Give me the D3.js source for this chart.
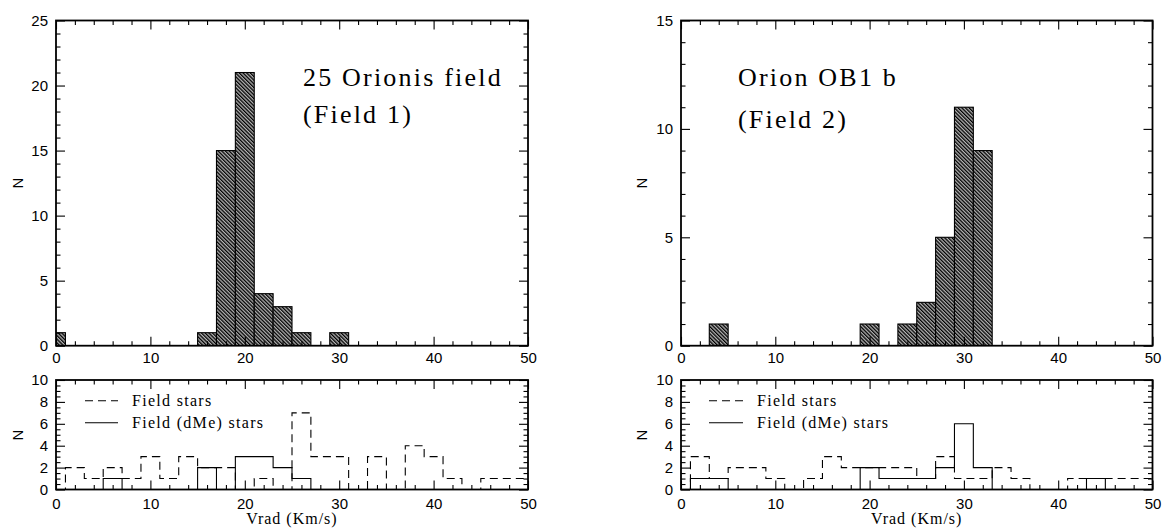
<!DOCTYPE html>
<html><head><meta charset="utf-8">
<script src="https://cdn.jsdelivr.net/npm/d3@7"></script>
<style>body{margin:0;background:#fff}svg{display:block}</style>
</head><body><svg id="c" width="1163" height="531"></svg>
<script>
// ---------- data ----------
const binCenters = [0,2,4,6,8,10,12,14,16,18,20,22,24,26,28,30,32,34,36,38,40,42,44,46,48,50];
const binHalf = 1;
const field1Cluster = [1,0,0,0,0,0,0,0,1,15,21,4,3,1,0,1,0,0,0,0,0,0,0,0,0,0];
const field2Cluster = [0,0,1,0,0,0,0,0,0,0,1,0,1,2,5,11,9,0,0,0,0,0,0,0,0,0];
const field1Stars   = [0,2,1,2,1,3,1,3,2,2,0,1,0,7,3,3,0,3,0,4,3,1,0,1,1,1];
const field1DMe     = [0,0,0,1,0,0,0,0,2,0,3,3,2,1,0,0,0,0,0,0,0,0,0,0,0,0];
const field2Stars   = [0,3,1,2,2,1,0,1,3,2,2,2,2,1,3,1,1,2,1,0,0,1,1,1,1,1];
const field2DMe     = [0,1,1,0,0,0,0,0,0,0,2,1,1,1,2,6,2,0,0,0,0,0,1,0,0,0];
const titles1 = ["25 Orionis field", "(Field 1)"];
const titles2 = ["Orion OB1 b", "(Field 2)"];
const legendLabels = ["Field stars", "Field (dMe) stars"];
const xLabel = "Vrad (Km/s)";
const yLabel = "N";
const xDomain = [0, 50];
const xMajorTicks = [0,10,20,30,40,50];
const topY1Ticks = [0,5,10,15,20,25];
const topY2Ticks = [0,5,10,15];
const bottomYTicks = [0,2,4,6,8,10];

// ---------- drawing ----------
const svg = d3.select("#c");
const defs = svg.append("defs");
const pat = defs.append("pattern").attr("id","hatch").attr("patternUnits","userSpaceOnUse")
  .attr("width",2.6).attr("height",2.6).attr("patternTransform","rotate(-45)");
pat.append("rect").attr("width",2.6).attr("height",2.6).attr("fill","#b4b4b4");
pat.append("rect").attr("width",1.3).attr("height",2.6).attr("fill","#000");

const sansFont = "Liberation Sans, Arial, sans-serif";
const serifFont = "Liberation Serif, Times New Roman, serif";

function makePanel(id, box, yDomain, yMajor, yMinorStep, xPad) {
  const x = d3.scaleLinear().domain(xDomain).range([box.x0, box.x1]);
  const y = d3.scaleLinear().domain(yDomain).range([box.y1, box.y0]);
  defs.append("clipPath").attr("id","clip"+id).append("rect")
    .attr("x",box.x0).attr("y",box.y0).attr("width",box.x1-box.x0).attr("height",box.y1-box.y0);
  const g = svg.append("g");
  const plot = g.append("g").attr("clip-path",`url(#clip${id})`);
  const xMinor = d3.range(xDomain[0], xDomain[1]+0.001, 2).filter(v => !xMajorTicks.includes(v));
  const yMinor = d3.range(yDomain[0], yDomain[1]+0.001, yMinorStep).filter(v => !yMajor.some(m => Math.abs(m-v)<1e-6));
  const axes = g.append("g");
  const styleAxis = sel => { sel.select(".domain").remove(); sel.selectAll("line").attr("stroke","#000").attr("stroke-width",1.1); sel.attr("font-family",sansFont).attr("font-size",15).selectAll("text").attr("fill","#000"); };
  axes.append("g").attr("transform",`translate(0,${box.y1})`)
    .call(d3.axisBottom(x).tickValues(xMajorTicks).tickSizeInner(-9).tickSizeOuter(0).tickPadding(xPad).tickFormat(d3.format("d"))).call(styleAxis);
  axes.append("g").attr("transform",`translate(${box.x0},0)`)
    .call(d3.axisLeft(y).tickValues(yMajor).tickSizeInner(-9).tickSizeOuter(0).tickPadding(8).tickFormat(d3.format("d"))).call(styleAxis);
  axes.append("g").attr("transform",`translate(0,${box.y0})`)
    .call(d3.axisTop(x).tickValues(xMajorTicks).tickSizeInner(-9).tickSizeOuter(0).tickFormat("")).call(styleAxis);
  axes.append("g").attr("transform",`translate(${box.x1},0)`)
    .call(d3.axisRight(y).tickValues(yMajor).tickSizeInner(-9).tickSizeOuter(0).tickFormat("")).call(styleAxis);
  axes.append("g").attr("transform",`translate(0,${box.y1})`)
    .call(d3.axisBottom(x).tickValues(xMinor).tickSizeInner(-4.5).tickSizeOuter(0).tickFormat("")).call(styleAxis);
  axes.append("g").attr("transform",`translate(0,${box.y0})`)
    .call(d3.axisTop(x).tickValues(xMinor).tickSizeInner(-4.5).tickSizeOuter(0).tickFormat("")).call(styleAxis);
  axes.append("g").attr("transform",`translate(${box.x0},0)`)
    .call(d3.axisLeft(y).tickValues(yMinor).tickSizeInner(-4.5).tickSizeOuter(0).tickFormat("")).call(styleAxis);
  axes.append("g").attr("transform",`translate(${box.x1},0)`)
    .call(d3.axisRight(y).tickValues(yMinor).tickSizeInner(-4.5).tickSizeOuter(0).tickFormat("")).call(styleAxis);
  return {g, plot, x, y, box};
}

function drawFrame(p) {
  p.g.append("rect").attr("x",p.box.x0).attr("y",p.box.y0)
    .attr("width",p.box.x1-p.box.x0).attr("height",p.box.y1-p.box.y0)
    .attr("fill","none").attr("stroke","#000").attr("stroke-width",1.8);
}

function drawBars(p, counts) {
  const data = binCenters.map((c,i)=>({c, v:counts[i]})).filter(d=>d.v>0);
  p.plot.selectAll("rect.bar").data(data).join("rect").attr("class","bar")
    .attr("x",d=>p.x(d.c-binHalf)).attr("width",d=>p.x(d.c+binHalf)-p.x(d.c-binHalf))
    .attr("y",d=>p.y(d.v)).attr("height",d=>p.y(0)-p.y(d.v))
    .attr("fill","url(#hatch)").attr("stroke","#000").attr("stroke-width",1.1);
}

function drawStep(p, counts, dashed) {
  const pts = [[binCenters[0]-binHalf, 0]];
  counts.forEach((v,i)=>{ pts.push([binCenters[i]-binHalf, v]); pts.push([binCenters[i]+binHalf, v]); });
  pts.push([binCenters[binCenters.length-1]+binHalf, 0]);
  p.plot.append("path").attr("d", d3.line().x(d=>p.x(d[0])).y(d=>p.y(d[1]))(pts))
    .attr("fill","none").attr("stroke","#000").attr("stroke-width",1.1)
    .attr("stroke-dasharray", dashed ? "8,5" : null);
}

function yTitle(xc, yc) {
  svg.append("text").attr("transform",`translate(${xc},${yc}) rotate(-90)`)
    .attr("text-anchor","middle").attr("dy","0.35em")
    .attr("font-family",sansFont).attr("font-size",15).text(yLabel);
}

function titleText(x0, baselines, lines) {
  lines.forEach((t,i)=>svg.append("text").attr("x",x0).attr("y",baselines[i])
    .attr("font-family",serifFont).attr("font-size",26).attr("letter-spacing","2.2px").text(t));
}

function legend(p, lx0, lx1, tx) {
  const ys = [p.y(8.1), p.y(6.1)];
  [true,false].forEach((dashed,i)=>{
    svg.append("line").attr("x1",lx0).attr("x2",lx1).attr("y1",ys[i]).attr("y2",ys[i])
      .attr("stroke","#000").attr("stroke-width",1.1).attr("stroke-dasharray",dashed?"8,5":null);
    svg.append("text").attr("x",tx).attr("y",ys[i]).attr("dy","0.35em")
      .attr("font-family",serifFont).attr("font-size",16).attr("letter-spacing","1.3px").text(legendLabels[i]);
  });
}

const p1 = makePanel("a", {x0:56, x1:528, y0:20.5, y1:345.7}, [0,25], topY1Ticks, 1, 7);
drawBars(p1, field1Cluster); drawFrame(p1);
const p2 = makePanel("b", {x0:681, x1:1152.5, y0:20.5, y1:345.7}, [0,15], topY2Ticks, 1, 7);
drawBars(p2, field2Cluster); drawFrame(p2);
const p3 = makePanel("c", {x0:56, x1:528, y0:380, y1:489.5}, [0,10], bottomYTicks, 0.5, 9);
drawStep(p3, field1Stars, true); drawStep(p3, field1DMe, false); drawFrame(p3);
const p4 = makePanel("d", {x0:681, x1:1152.5, y0:380, y1:489.5}, [0,10], bottomYTicks, 0.5, 9);
drawStep(p4, field2Stars, true); drawStep(p4, field2DMe, false); drawFrame(p4);

titleText(303, [86,123], titles1);
titleText(738, [86,128], titles2);
legend(p3, 85, 118, 132);
legend(p4, 709, 743, 757);

yTitle(18, 183); yTitle(18, 435); yTitle(642, 183); yTitle(642, 435);
[p3,p4].forEach(p=>svg.append("text").attr("x",(p.box.x0+p.box.x1)/2).attr("y",524)
  .attr("text-anchor","middle").attr("font-family",serifFont).attr("font-size",16)
  .attr("letter-spacing","1px").text(xLabel));
</script></body></html>
